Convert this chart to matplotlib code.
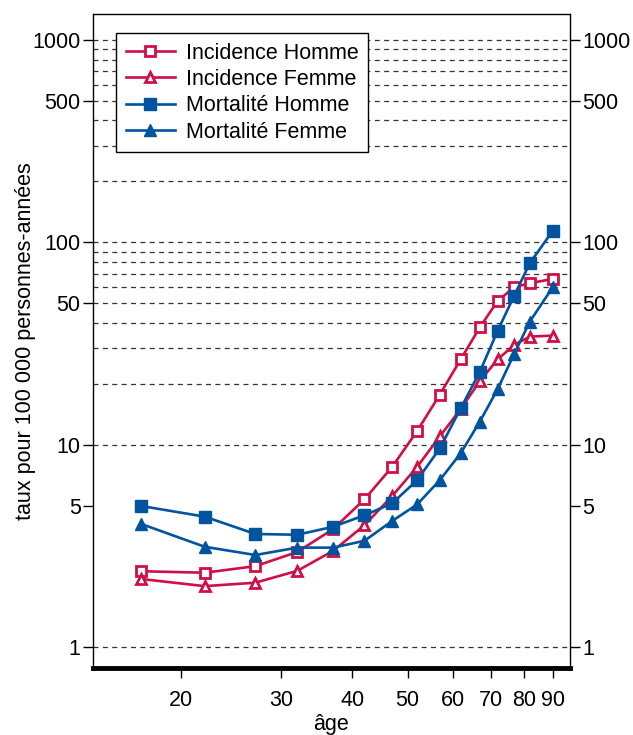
import numpy as np
import matplotlib
matplotlib.use('Agg')
import matplotlib.pyplot as plt
from matplotlib.ticker import FixedLocator, FixedFormatter, NullLocator

plt.rcParams['font.family'] = ['Liberation Sans', 'DejaVu Sans']

# ages (centre des classes)
ages = [17, 22, 27, 32, 37, 42, 47, 52, 57, 62, 67, 72, 77, 82, 90]

inc_homme = [2.37, 2.33, 2.51, 2.95, 3.83, 5.37, 7.78, 11.7, 17.7, 26.4, 38.0, 51.3, 60.0, 62.8, 65.9]
inc_femme = [2.17, 2.00, 2.08, 2.38, 2.99, 4.00, 5.58, 7.78, 11.0, 15.0, 20.6, 26.4, 31.1, 34.2, 34.6]
mort_homme = [4.98, 4.41, 3.62, 3.59, 3.93, 4.48, 5.13, 6.69, 9.6, 15.1, 22.9, 36.5, 54.5, 78.8, 113.9]
mort_femme = [4.06, 3.13, 2.85, 3.10, 3.10, 3.35, 4.20, 5.07, 6.69, 9.07, 13.0, 18.8, 28.1, 40.5, 60.0]

x_ticks = [20, 30, 40, 50, 60, 70, 80, 90]
y_ticks = [1, 5, 10, 50, 100, 500, 1000]
grid_vals = [1, 10, 20, 30, 40, 50, 60, 70, 80, 90, 100,
             200, 300, 400, 500, 600, 700, 800, 900, 1000]

rouge = '#cf0f45'
bleu = '#00549f'

fig = plt.figure(figsize=(6.33, 7.35), dpi=100)
ax = fig.add_axes([0.147, 0.091, 0.753, 0.890])

ax.set_xscale('log')
ax.set_yscale('log')
ax.set_xlim(14, 96.4)
ax.set_ylim(0.787, 1344)

for g in grid_vals:
    ax.axhline(g, color='#333333', lw=0.9, ls=(0, (4, 3.5)), zorder=1)

lw = 1.9
ax.plot(ages, inc_homme, color=rouge, lw=lw, marker='s', ms=7, mfc='white',
        mec=rouge, mew=2, label='Incidence Homme', zorder=3)
ax.plot(ages, inc_femme, color=rouge, lw=lw, marker='^', ms=7.5, mfc='white',
        mec=rouge, mew=2, label='Incidence Femme', zorder=3)
ax.plot(ages, mort_homme, color=bleu, lw=lw, marker='s', ms=8.5, mfc=bleu,
        mec=bleu, label='Mortalité Homme', zorder=3)
ax.plot(ages, mort_femme, color=bleu, lw=lw, marker='^', ms=9, mfc=bleu,
        mec=bleu, label='Mortalité Femme', zorder=3)

ax.xaxis.set_major_locator(FixedLocator(x_ticks))
ax.xaxis.set_major_formatter(FixedFormatter([str(v) for v in x_ticks]))
ax.xaxis.set_minor_locator(NullLocator())
ax.yaxis.set_major_locator(FixedLocator(y_ticks))
ax.yaxis.set_major_formatter(FixedFormatter([str(v) for v in y_ticks]))
ax.yaxis.set_minor_locator(NullLocator())

ax.tick_params(axis='y', which='major', direction='out', length=7, width=1,
               labelsize=15.5, left=True, right=True, labelleft=True, labelright=True, pad=2)
ax.tick_params(axis='x', which='major', direction='out', length=7, width=1,
               labelsize=15.5, pad=9)

for s in ['left', 'right', 'top']:
    ax.spines[s].set_linewidth(1)
ax.spines['bottom'].set_linewidth(3.5)

ax.set_xlabel('âge', fontsize=15.5, labelpad=2)
ax.set_ylabel('taux pour 100 000 personnes-années', fontsize=15.5)
ax.yaxis.set_label_coords(-0.12, 0.50)

leg = ax.legend(loc='upper left', bbox_to_anchor=(0.048, 0.971), fontsize=15.5,
                frameon=True, fancybox=False, edgecolor='black', framealpha=1,
                handlelength=2.3, borderpad=0.45, labelspacing=0.25, handletextpad=0.5,
                borderaxespad=0)
leg.get_frame().set_linewidth(1)

fig.savefig('out.png', dpi=100)
